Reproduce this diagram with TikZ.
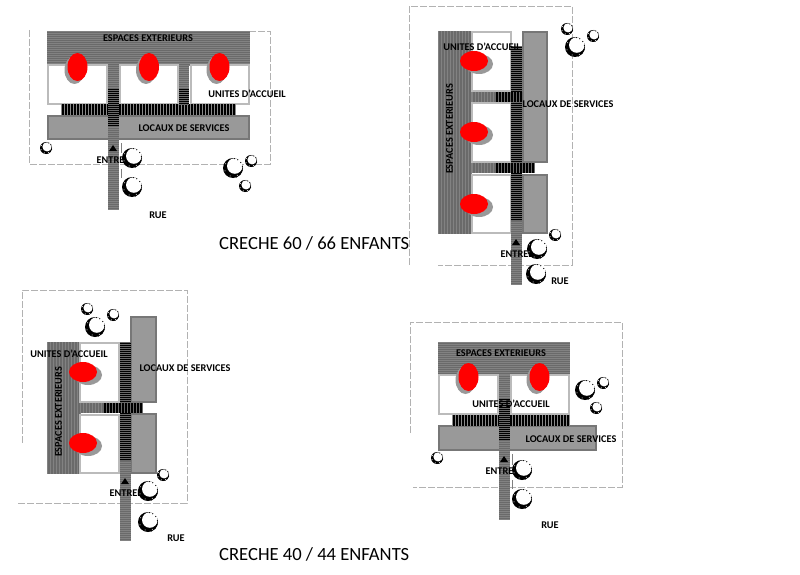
\documentclass[tikz,border=0pt]{standalone}
\usepackage{fontspec}
\setmainfont{Carlito}
\usetikzlibrary{shapes}
\definecolor{fondgris}{HTML}{6A6A6A}
\definecolor{raiegris}{HTML}{828282}
\definecolor{raienoir}{HTML}{8A8A8A}
\definecolor{locaux}{HTML}{999999}
\definecolor{bordlocaux}{HTML}{777777}
\definecolor{bordunite}{HTML}{BBBBBB}
\newcommand{\rayH}[6]{\fill[#5] (#1,#2) rectangle (#3,#4);
  \pgfmathsetmacro\ysuiv{#2+2}
  \foreach \y in {#2,\ysuiv,...,#4} \draw[#6,line width=.5pt] (#1,\y) -- (#3,\y);}
\newcommand{\rayV}[6]{\fill[#5] (#1,#2) rectangle (#3,#4);
  \pgfmathsetmacro\xsuiv{#1+3}
  \foreach \x in {#1,\xsuiv,...,#3} \draw[#6,line width=.5pt] (\x,#2) -- (\x,#4);}
\newcommand{\arbre}[3]{\fill[black] (#1,#2) circle (#3);
  \fill[white] ({#1+.18*#3},{#2-.2*#3}) circle ({.78*#3});
  \foreach \a in {-70,-40,-15,10,35,60,80}
    \fill[black] ({#1+.95*#3*cos(\a)},{#2-.95*#3*sin(\a)}) circle (.6);
  \foreach \a in {150,200,250,300}
    \fill[white] ({#1+.85*#3*cos(\a)},{#2-.85*#3*sin(\a)}) circle (.5);}
\tikzset{
  txt/.style={font=\fontsize{10.3}{11}\selectfont\bfseries,inner sep=0pt},
  titre/.style={font=\fontsize{18.6}{19}\selectfont,inner sep=0pt},
  limite/.style={draw=black!30,dash pattern=on 7pt off 2pt,line width=.7pt},
  unite/.style={fill=white,draw=bordunite,line width=1.3pt},
  service/.style={fill=locaux,draw=bordlocaux,line width=1.3pt},
  ombre/.style={fill=black!40},
  rouge/.style={fill=red}
}
\begin{document}
\begin{tikzpicture}[x=1pt,y=-1pt]
\useasboundingbox (0,0) rectangle (800,575);
% creche 60 horizontale
\draw[limite] (29,30) -- (29,164) -- (270,164) -- (270,31) -- (250,31);
\rayH{47}{31}{250}{65}{fondgris}{raiegris}
\draw[unite] (48,65) rectangle (107,104);
\draw[unite] (120,65) rectangle (178,104);
\draw[unite] (191,65) rectangle (249,104);
\draw[service] (48,116) rectangle (249,139);
\rayH{108}{65}{119}{209}{fondgris}{raiegris}
\rayH{179}{65}{189}{88}{fondgris}{raiegris}
\rayV{61}{104}{236}{115}{black}{raienoir}
\rayH{108}{88}{119}{127}{black}{fondgris}
\rayH{179}{88}{189}{104}{black}{fondgris}
\foreach \x in {77.5,149,219.5}{
  \fill[ombre] (\x-3,70) ellipse (10 and 14);
  \fill[rouge] (\x,67) ellipse (10 and 14);}
\fill[black] (109,151) -- (113,145) -- (117,151) -- cycle;
\draw[black!50,line width=1pt] (121,143) -- (121,153) (121,169) -- (121,178);
\node[txt] (esp1) at (148,38.5) {ESPACES EXTERIEURS};
\node[txt] (uni1) at (247,93.5) {UNITES D'ACCUEIL};
\node[txt] (loc1) at (184,128) {LOCAUX DE SERVICES};
\node[txt] (ent1) at (113,160) {ENTREE};
\node[txt] (rue1) at (158,215) {RUE};
\arbre{46}{148}{6}\arbre{132}{158}{10}\arbre{132}{187}{10}
\arbre{233}{168}{10}\arbre{251}{161}{6}\arbre{245}{186}{6}
% creche 60 verticale
\draw[limite] (409,265) -- (409,6) -- (572,6) -- (572,265) -- (438,265);
\rayV{438}{31}{472}{234}{fondgris}{raiegris}
\draw[unite] (472,32) rectangle (511,91);
\draw[unite] (472,103) rectangle (511,162);
\draw[unite] (472,175) rectangle (511,233);
\draw[service] (523,32) rectangle (547,162);
\draw[service] (523,175) rectangle (547,233);
\rayH{511}{220}{522}{284}{fondgris}{raiegris}
\rayV{472}{92}{495}{102}{fondgris}{raiegris}
\rayV{472}{163}{495}{173}{fondgris}{raiegris}
\rayH{511}{46}{522}{220}{black}{fondgris}
\rayV{495}{92}{522}{102}{black}{fondgris}
\rayV{495}{163}{534}{173}{black}{fondgris}
\foreach \y in {61,132,204}{
  \fill[ombre] (479,\y+3) ellipse (14 and 10);
  \fill[rouge] (474,\y) ellipse (14 and 10);}
\fill[black] (512,245) -- (516,239) -- (520,245) -- cycle;
\node[txt] (uni2) at (482,46.5) {UNITES D'ACCUEIL};
\node[txt] (loc2) at (568,104) {LOCAUX DE SERVICES};
\node[txt,rotate=90] (esp2) at (449.5,129) {ESPACES EXTERIEURS};
\node[txt] (ent2) at (517,254) {ENTREE};
\node[txt] (rue2) at (560,281) {RUE};
\arbre{567}{29}{6}\arbre{593}{36}{6}\arbre{575}{47}{10}
\arbre{555}{235}{6}\arbre{537}{249}{10}\arbre{536}{274}{10}
\node[titre,anchor=west] (titre60) at (219,243.5) {CRECHE 60 / 66 ENFANTS};
% creche 40 verticale
\draw[limite] (22,443) -- (22,290) -- (187,290) -- (187,503) -- (18,503);
\rayV{47}{342}{80}{474}{fondgris}{raiegris}
\draw[unite] (80,343) rectangle (119,402);
\draw[unite] (80,415) rectangle (119,473);
\draw[service] (131,317) rectangle (156,402);
\draw[service] (131,414) rectangle (156,473);
\rayH{120}{460}{131}{541}{fondgris}{raiegris}
\rayV{80}{403}{103}{413}{fondgris}{raiegris}
\rayH{120}{342}{131}{460}{black}{fondgris}
\rayV{103}{403}{143}{413}{black}{fondgris}
\foreach \y in {372,443}{
  \fill[ombre] (88,\y+3) ellipse (14 and 10);
  \fill[rouge] (83,\y) ellipse (14 and 10);}
\fill[black] (121,484) -- (125,478) -- (129,484) -- cycle;
\node[txt] (uni3) at (69,354) {UNITES D'ACCUEIL};
\node[txt] (loc3) at (185,368) {LOCAUX DE SERVICES};
\node[txt,rotate=90] (esp3) at (58.5,412) {ESPACES EXTERIEURS};
\node[txt] (ent3) at (126,493) {ENTREE};
\node[txt] (rue3) at (176,538) {RUE};
\arbre{87}{309}{6}\arbre{113}{315}{6}\arbre{95}{327}{10}
\arbre{163}{475}{6}\arbre{148}{491}{10}\arbre{148}{522}{10}
\node[titre,anchor=west] (titre40) at (219,554) {CRECHE 40 / 44 ENFANTS};
% creche 40 horizontale
\draw[limite] (410,433) -- (410,322) -- (622,322) -- (622,487) -- (413,487);
\rayH{438}{342}{570}{375}{fondgris}{raiegris}
\draw[unite] (439,375) rectangle (498,414);
\draw[unite] (511,375) rectangle (569,414);
\draw[service] (439,426) rectangle (596,450);
\rayH{499}{375}{510}{519}{fondgris}{raiegris}
\rayV{452}{415}{570}{426}{black}{raienoir}
\rayH{499}{398}{510}{440}{black}{fondgris}
\foreach \x in {468.5,539.5}{
  \fill[ombre] (\x-3,380) ellipse (10 and 14);
  \fill[rouge] (\x,377) ellipse (10 and 14);}
\fill[black] (500,462) -- (504,456) -- (508,462) -- cycle;
\draw[black!50,line width=1pt] (512,454) -- (512,465) (512,480) -- (512,489);
\node[txt] (esp4) at (501,353) {ESPACES EXTERIEURS};
\node[txt] (uni4) at (511,404) {UNITES D'ACCUEIL};
\node[txt] (loc4) at (571,439) {LOCAUX DE SERVICES};
\node[txt] (ent4) at (502,471) {ENTREE};
\node[txt] (rue4) at (550,525) {RUE};
\arbre{437}{458}{6}\arbre{522}{470}{10}\arbre{522}{499}{10}
\arbre{585}{390}{10}\arbre{603}{383}{6}\arbre{596}{408}{6}
\end{tikzpicture}
\end{document}
